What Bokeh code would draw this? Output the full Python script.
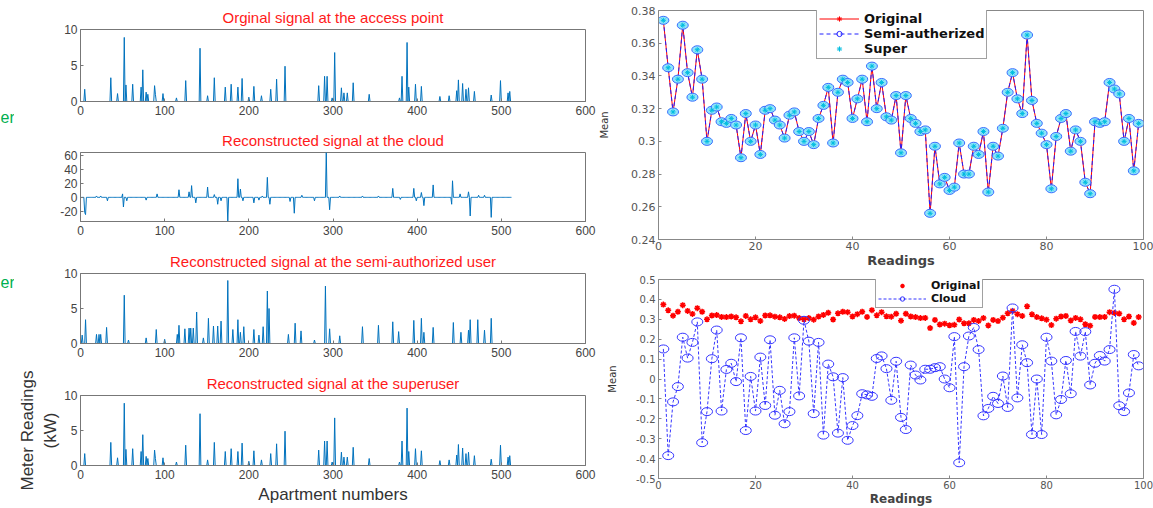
import numpy as np
from bokeh.plotting import figure
from bokeh.layouts import row, column
from bokeh.models import (Range1d, FixedTicker, CustomJSTickFormatter,
                          Legend, LegendItem, ColumnDataSource)
from bokeh.core.properties import value
from bokeh.embed import file_html
from bokeh.resources import INLINE

# ---------------- data: left panels (meter readings per apartment) ----------------
N_APT = 512
x_ticks_apt = [0, 100, 200, 300, 400, 500, 600]

orig_pos = [5, 36, 44, 52, 54, 62, 72, 74, 78, 80, 88, 89, 98, 114, 125, 142, 151, 159, 172, 179,
            187, 192, 200, 206, 215, 226, 233, 243, 283, 290, 293, 299, 302, 310, 313, 317, 324, 343, 379, 382,
            388, 390, 398, 405, 427, 438, 447, 449, 454, 458, 461, 468, 488, 499, 508, 510]
orig_val = [1.7, 3.3, 1.1, 8.9, 2.3, 2.4, 2.0, 4.4, 1.3, 1.0, 2.2, 1.0, 1.1, 0.5, 2.9, 7.4, 0.8, 3.3, 2.0, 2.4,
            2.0, 3.2, 0.6, 2.1, 0.8, 1.7, 3.1, 4.9, 2.2, 3.5, 3.5, 0.5, 6.8, 1.9, 1.2, 1.2, 2.6, 1.0, 0.5, 3.5,
            8.2, 2.0, 2.4, 2.1, 0.7, 0.8, 1.5, 3.0, 2.5, 1.7, 1.9, 1.4, 0.9, 2.9, 1.2, 1.4]

cloud_pos = [5, 6, 19, 24, 32, 50, 51, 55, 78, 91, 117, 129, 132, 137, 151, 159, 163, 167, 175, 187, 190,
             193, 206, 212, 216, 222, 225, 249, 254, 263, 278, 292, 296, 308, 335, 354, 371, 380, 396, 399, 405,
             408, 419, 441, 442, 451, 461, 463, 473, 480, 488]
cloud_val = [-22, -25, 2, 2, -5, 5, -14, -5, -4, 5, 11, 8, 17, -8, 15, 4, -10, -5, -35, 27, 12,
             -5, -8, -4, 2, 29, -10, -6, -23, 3, -5, 65, -18, 2, 2, 2, 13, -3, 13, -5, 7,
             -12, 18, -10, 24, 5, 8, -27, 3, 3, -29]

semi_pos = [2, 6, 19, 22, 24, 31, 52, 57, 78, 90, 100, 115, 117, 124, 129, 131, 134, 138, 146, 152,
            158, 163, 167, 175, 181, 187, 190, 194, 206, 212, 217, 222, 224, 247, 255, 262, 278, 291, 296, 308,
            335, 354, 371, 378, 396, 405, 408, 419, 443, 452, 461, 463, 472, 480, 488]
semi_val = [1.2, 3.4, 1.3, 1.3, 1.3, 2.3, 6.9, 0.5, 0.8, 2.0, 0.6, 1.3, 2.6, 2.1, 2.2, 2.2, 2.2, 4.5, 0.8, 3.6,
            2.5, 2.5, 3.2, 9.0, 2.0, 3.4, 1.6, 2.4, 2.0, 1.2, 2.4, 7.5, 5.0, 1.3, 2.9, 1.8, 0.5, 8.2, 2.1, 1.1,
            2.4, 2.6, 3.1, 1.7, 3.3, 3.6, 1.6, 2.3, 3.0, 1.6, 1.9, 3.4, 3.4, 1.9, 3.6]

super_pos = list(orig_pos)
super_val = list(orig_val)

# green slide-text fragments visible at the left edge
side_texts = ["er", "er"]

# ---------------- data: right panels (mean per reading) ----------------
mean_original = [0.374, 0.345, 0.318, 0.338, 0.371, 0.342, 0.327, 0.356, 0.338, 0.300,
                 0.319, 0.321, 0.312, 0.311, 0.314, 0.310, 0.290, 0.317, 0.300, 0.310,
                 0.292, 0.319, 0.320, 0.313, 0.310, 0.302, 0.316, 0.318, 0.306, 0.300,
                 0.306, 0.298, 0.314, 0.322, 0.333, 0.299, 0.330, 0.338, 0.336, 0.314,
                 0.326, 0.338, 0.312, 0.346, 0.320, 0.336, 0.315, 0.313, 0.328, 0.293,
                 0.328, 0.314, 0.311, 0.306, 0.307, 0.256, 0.297, 0.274, 0.278, 0.270,
                 0.272, 0.299, 0.280, 0.280, 0.297, 0.292, 0.306, 0.269, 0.297, 0.291,
                 0.308, 0.330, 0.342, 0.326, 0.317, 0.365, 0.325, 0.311, 0.305, 0.298,
                 0.271, 0.303, 0.314, 0.317, 0.294, 0.307, 0.300, 0.275, 0.268, 0.312,
                 0.311, 0.312, 0.336, 0.332, 0.329, 0.300, 0.314, 0.282, 0.311]
mean_semi = list(mean_original)
mean_super = list(mean_original)
mean_cloud = [0.151, -0.385, -0.115, -0.038, 0.210, 0.105, 0.184, 0.287, -0.320, -0.164,
              0.102, 0.246, -0.161, 0.048, 0.079, -0.013, 0.207, -0.259, 0.013, -0.161,
              0.110, -0.133, 0.197, -0.182, -0.057, -0.225, -0.164, 0.207, -0.085, 0.295,
              0.190, -0.174, 0.184, -0.282, 0.075, 0.011, -0.272, 0.007, -0.308, -0.234,
              -0.184, -0.074, -0.080, -0.087, 0.103, 0.116, 0.052, -0.107, 0.089, -0.193,
              -0.254, 0.070, 0.020, -0.005, 0.049, 0.049, 0.057, 0.062, 0.000, -0.044,
              0.213, -0.421, 0.062, 0.216, 0.259, 0.148, -0.185, -0.148, -0.087, -0.123,
              0.015, -0.143, 0.357, -0.095, 0.172, 0.082, -0.279, 0.000, -0.279, 0.210,
              0.090, -0.180, -0.103, 0.093, -0.074, 0.239, 0.115, 0.238, -0.030, 0.079,
              0.118, 0.090, 0.148, 0.451, -0.134, -0.164, -0.070, 0.123, 0.066]
readings = list(range(1, len(mean_original) + 1))
x_ticks_read = [0, 20, 40, 60, 80, 100]
y_ticks_top = [0.24, 0.26, 0.28, 0.30, 0.32, 0.34, 0.36, 0.38]
y_ticks_bot = [-0.5, -0.4, -0.3, -0.2, -0.1, 0.0, 0.1, 0.2, 0.3, 0.4, 0.5]

# ---------------- styling ----------------
FONT_L = "Liberation Sans"
FONT_R = "DejaVu Sans"
BLUE = "#0072BD"
FMT = CustomJSTickFormatter(code="return String(Math.round(tick*1000)/1000);")
SIDE_W = 14


def spikes(pos, val):
    arr = np.zeros(N_APT)
    arr[np.array(pos) - 1] = val
    return arr


apartments = np.arange(1, N_APT + 1)


def left_panel(title, series, yr, yticks, height, top, bottom, xlabel=None, ylabel=None):
    p = figure(width=596 - SIDE_W, height=height, x_range=Range1d(0, 600), y_range=Range1d(*yr),
               output_backend="svg", toolbar_location=None,
               min_border_left=80 - SIDE_W, min_border_right=11, min_border_top=top, min_border_bottom=bottom)
    p.title.text = title
    p.title.text_color = "#ff1a1a"
    p.title.text_font = FONT_L
    p.title.text_font_size = "15px"
    p.title.text_font_style = "normal"
    p.title.align = "center"
    p.title.standoff = 7
    p.xgrid.visible = False
    p.ygrid.visible = False
    p.outline_line_color = "#777777"
    for ax in (p.xaxis[0], p.yaxis[0]):
        ax.major_tick_in = 3
        ax.major_tick_out = 0
        ax.minor_tick_line_color = None
        ax.axis_line_color = "#777777"
        ax.major_tick_line_color = "#777777"
        ax.major_label_text_font = FONT_L
        ax.major_label_text_font_size = "12px"
        ax.major_label_text_color = "#444444"
        ax.major_label_standoff = 4
        ax.formatter = FMT
    p.yaxis.major_label_standoff = 3
    p.xaxis.ticker = FixedTicker(ticks=x_ticks_apt)
    p.yaxis.ticker = FixedTicker(ticks=yticks)
    if xlabel:
        p.xaxis.axis_label = xlabel
        p.xaxis.axis_label_text_font = FONT_L
        p.xaxis.axis_label_text_font_size = "17px"
        p.xaxis.axis_label_text_font_style = "normal"
        p.xaxis.axis_label_text_color = "#333333"
        p.xaxis.axis_label_standoff = 3
    if ylabel:
        p.yaxis.axis_label = ylabel
        p.yaxis.axis_label_text_font = FONT_L
        p.yaxis.axis_label_text_font_size = "17px"
        p.yaxis.axis_label_text_font_style = "normal"
        p.yaxis.axis_label_text_color = "#333333"
        p.yaxis.axis_label_standoff = 1
    p.line(apartments, series, color=BLUE, line_width=1)
    return p


p1 = left_panel("Orginal signal at the access point", spikes(orig_pos, orig_val),
                (0, 10), [0, 5, 10], 124, 29, 23)
p2 = left_panel("Reconstructed signal at the cloud", spikes(cloud_pos, cloud_val),
                (-35, 65), [-20, 0, 20, 40, 60], 123, 28, 26)
p3 = left_panel("Reconstructed signal at the semi-authorized user", spikes(semi_pos, semi_val),
                (0, 10), [0, 5, 10], 121, 25, 25)
p4 = left_panel("Reconstructed signal at the superuser", spikes(super_pos, super_val),
                (0, 10), [0, 5, 10], 140, 27, 43,
                xlabel="Apartment numbers", ylabel="Meter Readings\n(kW)")

# narrow strip at the left edge carrying the green slide fragments
side = figure(width=SIDE_W, height=508, x_range=Range1d(0, SIDE_W), y_range=Range1d(0, 508),
              output_backend="svg", toolbar_location=None,
              min_border_left=0, min_border_right=0, min_border_top=0, min_border_bottom=0)
side.axis.visible = False
side.xgrid.visible = False
side.ygrid.visible = False
side.outline_line_color = None
side.text(x=[0, 0], y=[508 - 117, 508 - 282], text=side_texts, text_font=value(FONT_L),
          text_font_size="16px", text_color="#00b050", text_baseline="middle", text_align="left")


def right_panel(height, yr, yticks, top, bottom, tick_fs, lab_fs, lab_standoff):
    p = figure(width=557, height=height, x_range=Range1d(0, 100), y_range=Range1d(*yr),
               output_backend="svg", toolbar_location=None,
               min_border_left=61, min_border_right=10, min_border_top=top, min_border_bottom=bottom)
    p.xgrid.visible = False
    p.ygrid.visible = False
    p.outline_line_color = "#888888"
    for ax in (p.xaxis[0], p.yaxis[0]):
        ax.major_tick_in = 3
        ax.major_tick_out = 0
        ax.minor_tick_line_color = None
        ax.axis_line_color = "#888888"
        ax.major_tick_line_color = "#888888"
        ax.major_label_text_font = FONT_R
        ax.major_label_text_font_size = tick_fs
        ax.major_label_text_color = "#555555"
        ax.major_label_standoff = 3
        ax.formatter = FMT
    p.xaxis.major_label_standoff = 2
    p.xaxis.ticker = FixedTicker(ticks=x_ticks_read)
    p.yaxis.ticker = FixedTicker(ticks=yticks)
    p.xaxis.axis_label = "Readings"
    p.xaxis.axis_label_text_font = FONT_R
    p.xaxis.axis_label_text_font_size = lab_fs
    p.xaxis.axis_label_text_font_style = "bold"
    p.xaxis.axis_label_text_color = "#444444"
    p.xaxis.axis_label_standoff = 0
    p.yaxis.axis_label = "Mean"
    p.yaxis.axis_label_text_font = FONT_R
    p.yaxis.axis_label_text_font_size = "10px"
    p.yaxis.axis_label_text_font_style = "normal"
    p.yaxis.axis_label_text_color = "#333333"
    p.yaxis.axis_label_standoff = lab_standoff
    return p


def style_legend(leg, fs, gw, lh):
    leg.border_line_color = "#444444"
    leg.border_line_width = 1
    leg.background_fill_color = "white"
    leg.background_fill_alpha = 1
    leg.label_text_font = FONT_R
    leg.label_text_font_size = fs
    leg.label_text_font_style = "bold"
    leg.label_text_color = "#111111"
    leg.glyph_width = gw
    leg.glyph_height = lh
    leg.label_height = lh
    leg.spacing = 0
    leg.padding = 2
    leg.margin = 0
    leg.label_standoff = 5


# top-right
pr1 = right_panel(270, (0.24, 0.38), y_ticks_top, 10, 28, "11px", "13px", 18)
r_orig_line = pr1.line(readings, mean_original, color="red", line_width=1)
r_orig_star = pr1.scatter(readings, mean_original, marker="asterisk", size=5, line_color="red")
r_semi_line = pr1.line(readings, mean_semi, color="#2020ff", line_width=1, line_dash="4 3")
pr1.ellipse(readings, mean_semi, width=11, height=8, width_units="screen", height_units="screen",
            fill_color="#8fe4fa", line_color="#3a6dff", line_width=1)
r_super = pr1.scatter(readings, mean_super, marker="asterisk", size=5, line_color="#00bde0", line_width=1)

nan_src = ColumnDataSource(data=dict(x=[np.nan], y=[np.nan]))
r_semi_mark = pr1.scatter("x", "y", source=nan_src, marker="circle", size=9, fill_alpha=0,
                          line_color="#2020ff")
leg1 = Legend(items=[LegendItem(label="Original", renderers=[r_orig_line, r_orig_star]),
                     LegendItem(label="Semi-autherized", renderers=[r_semi_line, r_semi_mark]),
                     LegendItem(label="Super", renderers=[r_super])],
              location=(158, 180))
style_legend(leg1, "13px", 40, 13)
pr1.add_layout(leg1)

# bottom-right
pr2 = right_panel(238, (-0.5, 0.5), y_ticks_bot, 9, 22, "10px", "12px", 15)
r_orig2 = pr2.scatter(readings, mean_original, marker="asterisk", size=6, line_color="red", line_width=1.5)
r_cloud_line = pr2.line(readings, mean_cloud, color="#3535ff", line_width=1, line_dash="3 2")
pr2.ellipse(readings, mean_cloud, width=11, height=8, width_units="screen", height_units="screen",
            fill_alpha=0, line_color="#3535ff", line_width=1)
nan_src2 = ColumnDataSource(data=dict(x=[np.nan], y=[np.nan]))
r_cloud_mark = pr2.scatter("x", "y", source=nan_src2, marker="circle", size=9, fill_alpha=0,
                           line_color="#3535ff")
leg2 = Legend(items=[LegendItem(label="Original", renderers=[r_orig2]),
                     LegendItem(label="Cloud", renderers=[r_cloud_line, r_cloud_mark])],
              location=(217, 170))
style_legend(leg2, "11px", 48, 11)
pr2.add_layout(leg2)

layout = row(side, column(p1, p2, p3, p4), column(pr1, pr2))

with open("out.html", "w") as f:
    f.write(file_html(layout, INLINE))
